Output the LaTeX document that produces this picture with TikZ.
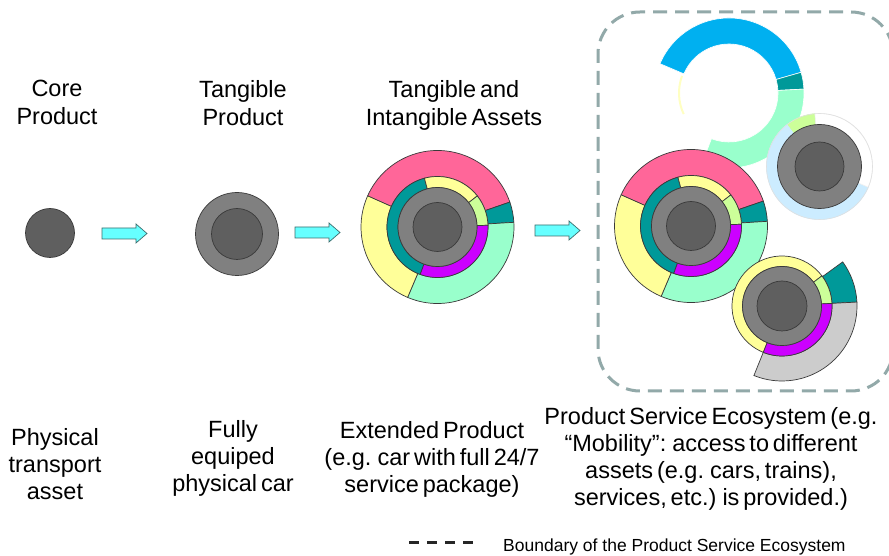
\documentclass[tikz,border=0pt]{standalone}
\usepackage{fontspec}
\setmainfont{Liberation Sans}
\newfontfamily\lblfont[WordSpace=0.6]{Liberation Sans}
\usetikzlibrary{calc}
\definecolor{darkcore}{HTML}{5F5F5F}
\definecolor{midgray}{HTML}{808080}
\definecolor{pinkc}{HTML}{FF6699}
\definecolor{yellowc}{HTML}{FFFF99}
\definecolor{aquac}{HTML}{99FFCC}
\definecolor{tealc}{HTML}{009999}
\definecolor{purplec}{HTML}{CC00FF}
\definecolor{lgreenc}{HTML}{CCFF99}
\definecolor{lgrayc}{HTML}{CCCCCC}
\definecolor{bluec}{HTML}{00B0F0}
\definecolor{lbluec}{HTML}{CCECFF}
\definecolor{arrowfill}{HTML}{66FFFF}
\definecolor{arrowline}{HTML}{3C6E6E}
\definecolor{boundc}{HTML}{92A9A9}
\definecolor{segline}{HTML}{3A3A3A}
\newcommand\ringseg[7]{%
  \filldraw[segstyle, fill=#7] ($(#1,#2)+(#5:#4pt)$) arc[start angle=#5, end angle=#6, radius=#4pt]
    -- ($(#1,#2)+(#6:#3pt)$) arc[start angle=#6, end angle=#5, radius=#3pt] -- cycle;}
\newcommand\softseg[8]{%
  \filldraw[draw=#8, line width=0.6pt, fill=#7] ($(#1,#2)+(#5:#4pt)$) arc[start angle=#5, end angle=#6, radius=#4pt]
    -- ($(#1,#2)+(#6:#3pt)$) arc[start angle=#6, end angle=#5, radius=#3pt] -- cycle;}
\newcommand\blockarr[2]{%
  \filldraw[arrstyle] (#1,#2+5.5) -- ++(34,0) -- ++(0,4) -- ++(11,-9.5) -- ++(-11,-9.5) -- ++(0,4) -- ++(-34,0) -- cycle;}
\newcommand\fullprod[2]{%
  \ringseg{#1}{#2}{50.5}{76.5}{19}{156}{pinkc}
  \ringseg{#1}{#2}{50.5}{76.5}{3.5}{19}{tealc}
  \ringseg{#1}{#2}{50.5}{76.5}{-113}{3.5}{aquac}
  \ringseg{#1}{#2}{50.5}{76.5}{156}{247}{yellowc}
  \ringseg{#1}{#2}{39.5}{50.5}{105}{250}{tealc}
  \ringseg{#1}{#2}{39.5}{50.5}{38}{105}{yellowc}
  \ringseg{#1}{#2}{39.5}{50.5}{2}{38}{lgreenc}
  \ringseg{#1}{#2}{39.5}{50.5}{-110}{2}{purplec}}
\begin{document}
\begin{tikzpicture}[x=1pt,y=1pt,
  segstyle/.style={draw=segline, line width=0.7pt},
  arrstyle/.style={draw=arrowline, line width=0.7pt, fill=arrowfill},
  coredisk/.style={circle, draw=segline, line width=0.7pt, fill=darkcore, inner sep=0pt},
  graydisk/.style={circle, draw=segline, line width=0.7pt, fill=midgray, inner sep=0pt},
  lbl/.style={font=\lblfont\fontsize{23.5}{28}\selectfont, align=center, inner sep=0pt, anchor=north},
  lblb/.style={font=\lblfont\fontsize{23.5}{27.2}\selectfont, align=center, inner sep=0pt, anchor=north},
  boundary/.style={draw=boundc, line width=3pt, dash pattern=on 14pt off 8pt},
  legdash/.style={draw=black!85, line width=3pt, dash pattern=on 10pt off 8pt}]
\useasboundingbox (0,0) rectangle (889,556);
\fill[white] (0,0) rectangle (889,556);

% ---- boundary of the ecosystem
\draw[boundary, rounded corners=42pt] (598,165) rectangle (893,544);

% ---- core product
\node[coredisk, minimum size=49pt] (core1) at (50,323) {};
\blockarr{102}{322.5}
% ---- tangible product
\node[graydisk, minimum size=83pt] (tang2) at (237,322) {};
\node[coredisk, minimum size=51pt] (core2) at (237,322) {};
\blockarr{295}{323.5}
% ---- extended product
\fullprod{437.5}{329}
\node[graydisk, minimum size=79pt] (tang3) at (437.5,329) {};
\node[coredisk, minimum size=49pt] (core3) at (437.5,329) {};
\blockarr{535}{325.5}

% ---- ecosystem: big open ring
\filldraw[draw=white, line width=0.6pt, fill=bluec] ($(729,463)+(16:75pt)$) arc[start angle=16, end angle=157, radius=75pt]
  -- ($(729,463)+(157:49pt)$) arc[start angle=157, end angle=16, radius=49pt] -- cycle;
\filldraw[draw=white, line width=0.6pt, fill=tealc] ($(729,463)+(3:75pt)$) arc[start angle=3, end angle=16, radius=75pt]
  -- ($(729,463)+(16:49pt)$) arc[start angle=16, end angle=3, radius=49pt] -- cycle;
\filldraw[draw=white, line width=0.6pt, fill=aquac] ($(729,463)+(-111:75pt)$) arc[start angle=-111, end angle=3, radius=75pt]
  -- ($(729,463)+(3:49pt)$) arc[start angle=3, end angle=-111, radius=49pt] -- cycle;
\draw[draw=yellowc!60, line width=2pt] ($(729,463)+(160:50pt)$) arc[start angle=160, end angle=205, radius=50pt];

% ---- ecosystem: main product
\fullprod{691}{330}
\node[graydisk, minimum size=79pt] (tang4) at (691,330) {};
\node[coredisk, minimum size=49pt] (core4) at (691,330) {};

% ---- ecosystem: upper right asset
\softseg{819.5}{389.5}{42}{53}{127}{337}{lbluec}{lbluec}
\softseg{819.5}{389.5}{42}{53}{95}{127}{lgreenc}{lgreenc}
\softseg{819.5}{389.5}{42}{53}{-23}{95}{white}{black!6}
\draw[black!12, line width=0.6pt] (819.5,389.5) circle[radius=53pt];
\node[graydisk, minimum size=84pt] (tang5) at (819.5,389.5) {};
\node[coredisk, minimum size=49pt] (core5) at (819.5,389.5) {};

% ---- ecosystem: lower right asset
\ringseg{782}{250}{50}{75}{3}{36}{tealc}
\ringseg{782}{250}{50}{75}{-112}{3}{lgrayc}
\ringseg{782}{250}{39.5}{50}{37}{248}{yellowc}
\ringseg{782}{250}{39.5}{50}{3}{37}{lgreenc}
\ringseg{782}{250}{39.5}{50}{-112}{3}{purplec}
\node[graydisk, minimum size=79pt] (tang6) at (782,250) {};
\node[coredisk, minimum size=50pt] (core6) at (782,250) {};

% ---- labels top
\node[lbl] (t1) at (57,476) {Core\\Product};
\node[lbl] (t2) at (243,476) {Tangible\\Product};
\node[lbl] (t3) at (454,476) {Tangible and\\Intangible Assets};
% ---- labels bottom
\node[lblb] (b1) at (55,128) {Physical\\transport\\asset};
\node[lblb] (b2) at (233,136) {Fully\\equiped\\physical car};
\node[lblb] (b3) at (432,135) {Extended Product\\(e.g. car with full 24/7\\service package)};
\node[lblb] (b4) at (711,149) {Product Service Ecosystem (e.g.\\“Mobility”: access to different\\assets (e.g. cars, trains),\\services, etc.) is provided.)};

% ---- legend
\node[font=\fontsize{17.5}{20}\selectfont, anchor=base west, inner sep=0pt] (leg) at (503,4) {Boundary of the Product Service Ecosystem};
\coordinate (legA) at (409,13);
\coordinate (legB) at (473,13);
\draw[legdash] (legA) -- (legB);
\end{tikzpicture}
\end{document}
